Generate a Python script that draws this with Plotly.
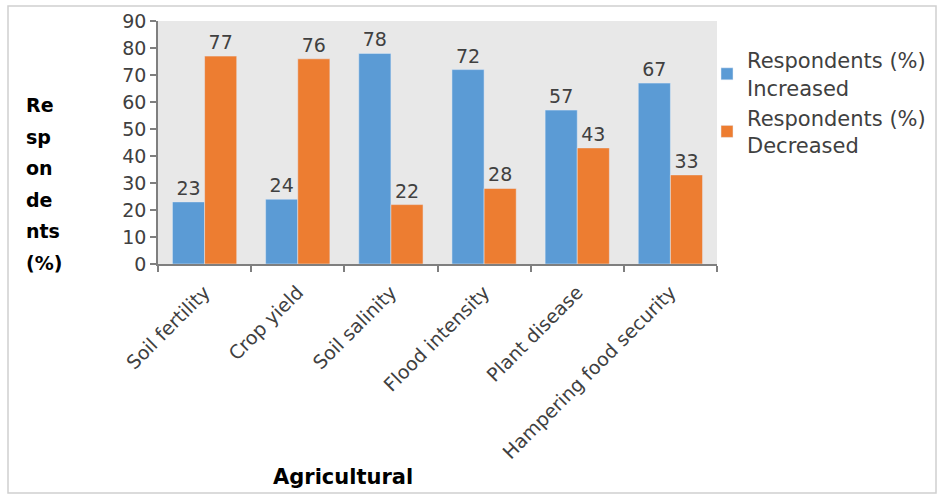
import plotly.graph_objects as go

categories = ["Soil fertility", "Crop yield", "Soil salinity", "Flood intensity",
              "Plant disease", "Hampering food security"]
increased = [23, 24, 78, 72, 57, 67]
decreased = [77, 76, 22, 28, 43, 33]
series_names = ["Respondents (%)<br>Increased", "Respondents (%)<br>Decreased"]
y_title_lines = ["Re", "sp", "on", "de", "nts", "(%)"]
x_title = "Agricultural"

W, H = 937, 494
L, R, T, B = 158, 717, 21, 264

FONT = "DejaVu Sans"
TXT = "#404040"

fig = go.Figure()
fig.add_trace(go.Bar(x=categories, y=increased, name=series_names[0],
                     marker=dict(color="#5B9BD5"), text=increased,
                     textposition="outside", cliponaxis=False,
                     textfont=dict(family=FONT, size=19, color=TXT)))
fig.add_trace(go.Bar(x=categories, y=decreased, name=series_names[1],
                     marker=dict(color="#ED7D31"), text=decreased,
                     textposition="outside", cliponaxis=False,
                     textfont=dict(family=FONT, size=19, color=TXT)))

def px_x(x):
    return (x - L) / (R - L)

def px_y(y):
    return (B - y) / (B - T)

annotations = []
ys = [105, 136.6, 168.2, 199.8, 231.4, 263]
for line, yy in zip(y_title_lines, ys):
    annotations.append(dict(text="<b>%s</b>" % line, xref="paper", yref="paper",
                            x=px_x(24), y=px_y(yy), xanchor="left", yanchor="middle",
                            showarrow=False, font=dict(family=FONT, size=19, color="black")))
annotations.append(dict(text="<b>%s</b>" % x_title, xref="paper", yref="paper",
                        x=px_x(343), y=px_y(477), xanchor="center", yanchor="middle",
                        showarrow=False, font=dict(family=FONT, size=21, color="black")))

fig.update_layout(
    width=W, height=H,
    margin=dict(l=L, r=W - R, t=T, b=H - B, pad=0, autoexpand=False),
    paper_bgcolor="white",
    plot_bgcolor="#E8E8E8",
    barmode="group",
    bargap=0.31,
    bargroupgap=0,
    font=dict(family=FONT, size=18, color=TXT),
    legend=dict(x=px_x(707), y=px_y(40), xanchor="left", yanchor="top",
                font=dict(family=FONT, size=21, color=TXT),
                bgcolor="rgba(0,0,0,0)", itemwidth=30, tracegroupgap=0),
    annotations=annotations,
    shapes=[dict(type="rect", xref="paper", yref="paper",
                 x0=px_x(8), x1=px_x(936), y0=px_y(493), y1=px_y(6),
                 line=dict(color="#D0D0D0", width=1.5), layer="below")],
    showlegend=True,
)
fig.update_xaxes(
    showgrid=False, showline=True, linecolor="#7F7F7F", linewidth=1.5,
    ticks="outside", ticklen=6, tickcolor="#7F7F7F", tickwidth=1.5,
    tickson="boundaries", tickangle=-45, ticklabelstandoff=8,
    tickfont=dict(family=FONT, size=19, color=TXT),
)
fig.update_yaxes(
    range=[0, 90], dtick=10, showgrid=False, zeroline=False,
    showline=True, linecolor="#7F7F7F", linewidth=1.5,
    ticks="outside", ticklen=6, tickcolor="#7F7F7F", tickwidth=1.5,
    tickfont=dict(family=FONT, size=19, color=TXT),
)

fig.write_html("out.html")
